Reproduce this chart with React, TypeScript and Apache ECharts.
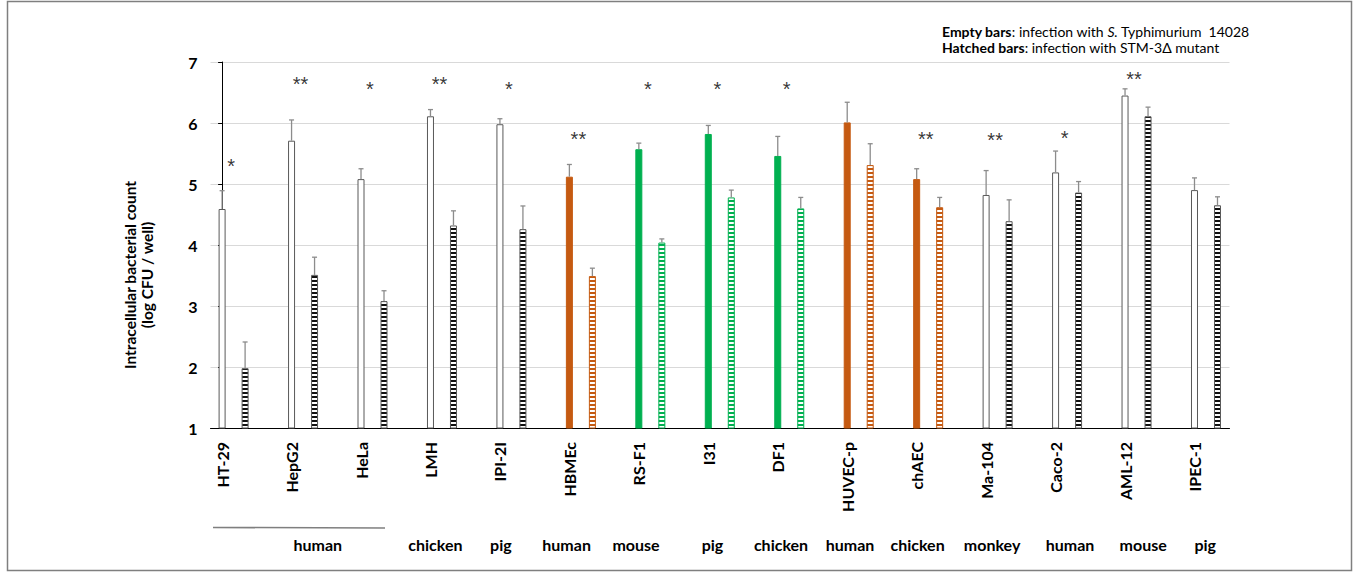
import React, { useEffect, useRef } from "react";
import * as echarts from "echarts";

// ---------- data ----------
const cellLines = ["HT-29", "HepG2", "HeLa", "LMH", "IPI-2I", "HBMEc", "RS-F1", "I31", "DF1", "HUVEC-p", "chAEC", "Ma-104", "Caco-2", "AML-12", "IPEC-1"];
const cellGroup = ["plain", "plain", "plain", "plain", "plain", "orange", "green", "green", "green", "orange", "orange", "plain", "plain", "plain", "plain"];
const wildType = [4.59, 5.71, 5.08, 6.11, 5.98, 5.12, 5.57, 5.82, 5.46, 6.01, 5.08, 4.82, 5.19, 6.45, 4.9];
const wildTypeErr = [0.3, 0.34, 0.17, 0.11, 0.09, 0.2, 0.1, 0.14, 0.32, 0.33, 0.17, 0.4, 0.35, 0.11, 0.2];
const mutant = [1.98, 3.51, 3.08, 4.32, 4.26, 3.49, 4.04, 4.78, 4.6, 5.31, 4.62, 4.39, 4.86, 6.11, 4.65];
const mutantErr = [0.43, 0.29, 0.17, 0.24, 0.38, 0.13, 0.06, 0.12, 0.18, 0.35, 0.16, 0.35, 0.18, 0.15, 0.14];
const significance = ["*", "**", "*", "**", "*", "**", "*", "*", "*", "", "**", "**", "*", "**", ""];
const significanceLevel = [5.39, 6.74, 6.65, 6.74, 6.65, 5.83, 6.65, 6.65, 6.65, 0, 5.83, 5.82, 5.86, 6.82, 0];
const speciesNames = ["human", "chicken", "pig", "human", "mouse", "pig", "chicken", "human", "chicken", "monkey", "human", "mouse", "pig"];
const speciesPos = [1.378, 3.071, 4.014, 4.96, 5.959, 7.06, 8.047, 9.04, 10.013, 11.086, 12.209, 13.261, 14.154];
const yTicks = [1, 2, 3, 4, 5, 6, 7];

// ---------- styles ----------
const FONT = "Lato";
const groupColors: Record<string, { fill: string; border: string; hatch: string }> = {
  plain: { fill: "#ffffff", border: "#595959", hatch: "#111111" },
  orange: { fill: "#C55A11", border: "#C55A11", hatch: "#C55A11" },
  green: { fill: "#00B050", border: "#00B050", hatch: "#00B050" },
};
const BAR_W = 7;
const GAP_PX = 16;
const PAIR_DX = BAR_W + GAP_PX;

function stripePattern(color: string) {
  const c = document.createElement("canvas");
  c.width = 4;
  c.height = 4;
  const ctx = c.getContext("2d")!;
  ctx.fillStyle = "#ffffff";
  ctx.fillRect(0, 0, 4, 4);
  ctx.fillStyle = color;
  ctx.fillRect(0, 0, 4, 2);
  return { image: c, repeat: "repeat", imageWidth: 4, imageHeight: 4 } as any;
}

function errorRenderer(dx: number) {
  return (params: any, api: any) => {
    const i = api.value(0);
    const v = api.value(1);
    const e = api.value(2);
    const b = api.coord([i, v]);
    const t = api.coord([i, v + e]);
    const x = b[0] + dx;
    const st = { stroke: "#8c8c8c", lineWidth: 1.3 };
    return {
      type: "group",
      children: [
        { type: "line", shape: { x1: x, y1: b[1], x2: x, y2: t[1] }, style: st },
        { type: "line", shape: { x1: x - 2.5, y1: t[1], x2: x + 2.5, y2: t[1] }, style: st },
      ],
    };
  };
}

export default function App() {
  const ref = useRef<HTMLDivElement>(null);
  useEffect(() => {
    const chart = echarts.init(ref.current!, null, { renderer: "svg" });
    const xMin = -0.167;
    const xMax = 14.504;
    const barGap = ((GAP_PX / BAR_W) * 100).toFixed(2) + "%";
    const sigLabel = {
      show: true,
      position: "inside",
      offset: [9, 6],
      fontFamily: "Liberation Sans",
      fontSize: 20,
      color: "#000",
    };
    const option: any = {
      animation: false,
      backgroundColor: "#ffffff",
      textStyle: { fontFamily: FONT },
      grid: { left: 210.5, right: 127.5, top: 62, bottom: 145, containLabel: false },
      xAxis: [
        {
          type: "value",
          min: xMin,
          max: xMax,
          axisLine: { show: true, onZero: false, lineStyle: { color: "#000", width: 1 } },
          axisTick: { show: false },
          splitLine: { show: false },
          axisLabel: {
            customValues: cellLines.map((_, i) => i),
            formatter: (v: number) => cellLines[Math.round(v)] ?? "",
            rotate: 90,
            margin: 14,
            fontFamily: FONT,
            fontWeight: "bold",
            fontSize: 16,
            color: "#000",
          },
        },
        {
          type: "value",
          min: xMin,
          max: xMax,
          position: "bottom",
          offset: 100,
          axisLine: { show: false },
          axisTick: { show: false },
          splitLine: { show: false },
          axisLabel: {
            customValues: speciesPos,
            formatter: (v: number) => {
              let best = 0;
              speciesPos.forEach((p, k) => {
                if (Math.abs(p - v) < Math.abs(speciesPos[best] - v)) best = k;
              });
              return speciesNames[best];
            },
            margin: 8,
            fontFamily: FONT,
            fontWeight: "bold",
            fontSize: 16,
            color: "#000",
          },
        },
      ],
      yAxis: {
        type: "value",
        min: yTicks[0],
        max: yTicks[yTicks.length - 1],
        interval: 1,
        axisLine: { show: true, lineStyle: { color: "#000", width: 1 } },
        axisTick: { show: true, length: 4, lineStyle: { color: "#000" } },
        splitLine: { show: true, lineStyle: { color: "#d9d9d9", width: 1 } },
        axisLabel: { margin: 13, fontFamily: FONT, fontWeight: "bold", fontSize: 16, color: "#000" },
      },
      series: [
        {
          type: "bar",
          name: "spacer",
          barWidth: BAR_W,
          barGap,
          data: cellLines.map((_, i) => [i, "-"]),
        },
        {
          type: "bar",
          name: "S. Typhimurium 14028",
          barWidth: BAR_W,
          barGap,
          data: wildType.map((v, i) => {
            const c = groupColors[cellGroup[i]];
            return { value: [i, v], itemStyle: { color: c.fill, borderColor: c.border, borderWidth: 1 } };
          }),
        },
        {
          type: "bar",
          name: "STM-3Δ mutant",
          barWidth: BAR_W,
          barGap,
          data: mutant.map((v, i) => {
            const c = groupColors[cellGroup[i]];
            return { value: [i, v], itemStyle: { color: stripePattern(c.hatch), borderColor: c.border, borderWidth: 1 } };
          }),
        },
        {
          type: "custom",
          name: "wtErr",
          renderItem: errorRenderer(0),
          data: wildType.map((v, i) => [i, v, wildTypeErr[i]]),
          z: 5,
        },
        {
          type: "custom",
          name: "mutErr",
          renderItem: errorRenderer(PAIR_DX),
          data: mutant.map((v, i) => [i, v, mutantErr[i]]),
          z: 5,
        },
        {
          type: "scatter",
          name: "significance",
          symbolSize: 0,
          itemStyle: { color: "#000" },
          data: significance
            .map((s, i) => ({ value: [i, significanceLevel[i]], mark: s }))
            .filter((d) => d.mark !== "")
            .map((d) => ({ value: d.value, label: { ...sigLabel, formatter: d.mark } })),
          label: sigLabel,
          z: 6,
        },
      ],
      graphic: [
        {
          type: "rect",
          shape: { x: 7.5, y: 1.5, width: 1344, height: 569 },
          style: { fill: "none", stroke: "#7f7f7f", lineWidth: 1.5 },
          silent: true,
        },
        {
          type: "line",
          shape: { x1: 213, y1: 527.5, x2: 385, y2: 528 },
          style: { stroke: "#7f7f7f", lineWidth: 1.5 },
        },
        {
          type: "text",
          x: 138,
          y: 275,
          rotation: Math.PI / 2,
          style: {
            text: "Intracellular bacterial count\n(log CFU / well)",
            fontFamily: FONT,
            fontWeight: "bold",
            fontSize: 15.5,
            lineHeight: 17,
            align: "center",
            verticalAlign: "middle",
            fill: "#000",
          },
        },
        {
          type: "text",
          x: 942,
          y: 31,
          style: {
            text: "{b|Empty bars}: infection with {i|S.} Typhimurium  14028",
            rich: {
              b: { fontWeight: "bold", fontFamily: FONT, fontSize: 14, fill: "#000" },
              i: { fontStyle: "italic", fontFamily: FONT, fontSize: 14, fill: "#000" },
            },
            fontFamily: FONT,
            fontSize: 14,
            fill: "#000",
            verticalAlign: "middle",
          },
        },
        {
          type: "text",
          x: 942,
          y: 47,
          style: {
            text: "{b|Hatched bars}: infection with STM-3Δ mutant",
            rich: {
              b: { fontWeight: "bold", fontFamily: FONT, fontSize: 14, fill: "#000" },
            },
            fontFamily: FONT,
            fontSize: 14,
            fill: "#000",
            verticalAlign: "middle",
          },
        },
      ],
    };
    chart.setOption(option);
    return () => chart.dispose();
  }, []);
  return <div ref={ref} style={{ position: "absolute", left: 0, top: 0, width: 1357, height: 573 }} />;
}
